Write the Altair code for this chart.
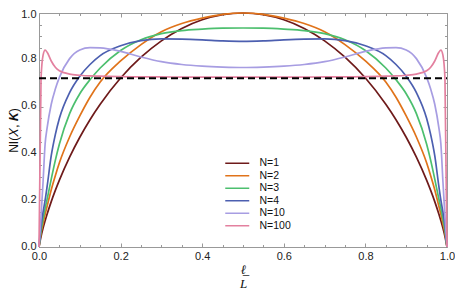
import altair as alt
import pandas as pd

# x positions (ell / L)
ell = [0.0, 0.005, 0.01, 0.015, 0.02, 0.03, 0.04, 0.05, 0.075, 0.1, 0.125, 0.15, 0.2, 0.25,
       0.3, 0.35, 0.4, 0.45, 0.5, 0.55, 0.6, 0.65, 0.7, 0.75, 0.8, 0.85, 0.875, 0.9, 0.925,
       0.95, 0.96, 0.97, 0.98, 0.985, 0.99, 0.995, 1.0]

n1 = [0.0, 0.045, 0.081, 0.112, 0.141, 0.194, 0.242, 0.286, 0.384, 0.469, 0.544, 0.610, 0.722, 0.811,
      0.881, 0.934, 0.971, 0.993, 1.0, 0.993, 0.971, 0.934, 0.881, 0.811, 0.722, 0.610, 0.544, 0.469, 0.384,
      0.286, 0.242, 0.194, 0.141, 0.112, 0.081, 0.045, 0.0]
n2 = [0.0, 0.06, 0.10, 0.14, 0.175, 0.245, 0.305, 0.36, 0.47, 0.56, 0.64, 0.705, 0.795, 0.865,
      0.92, 0.955, 0.978, 0.994, 1.0, 0.994, 0.978, 0.955, 0.92, 0.865, 0.795, 0.705, 0.64, 0.56, 0.47,
      0.36, 0.305, 0.245, 0.175, 0.14, 0.10, 0.06, 0.0]
n3 = [0.0, 0.07, 0.12, 0.165, 0.205, 0.29, 0.37, 0.44, 0.57, 0.655, 0.715, 0.765, 0.84, 0.886,
      0.912, 0.925, 0.931, 0.935, 0.936, 0.935, 0.931, 0.925, 0.912, 0.886, 0.84, 0.765, 0.715, 0.655, 0.57,
      0.44, 0.37, 0.29, 0.205, 0.165, 0.12, 0.07, 0.0]
n4 = [0.0, 0.09, 0.15, 0.20, 0.26, 0.39, 0.48, 0.55, 0.66, 0.73, 0.78, 0.818, 0.86, 0.882,
      0.889, 0.888, 0.885, 0.881, 0.879, 0.881, 0.885, 0.888, 0.889, 0.882, 0.86, 0.818, 0.78, 0.73, 0.66,
      0.55, 0.48, 0.39, 0.26, 0.20, 0.15, 0.09, 0.0]
n10 = [0.0, 0.13, 0.28, 0.44, 0.51, 0.61, 0.675, 0.725, 0.805, 0.842, 0.852, 0.851, 0.836, 0.812,
       0.792, 0.78, 0.773, 0.769, 0.767, 0.769, 0.773, 0.78, 0.792, 0.812, 0.836, 0.851, 0.852, 0.842, 0.805,
       0.725, 0.675, 0.61, 0.51, 0.44, 0.28, 0.13, 0.0]
n100 = [0.0, 0.72, 0.82, 0.841, 0.832, 0.795, 0.768, 0.753, 0.739, 0.734, 0.731, 0.730, 0.728, 0.727,
        0.727, 0.726, 0.726, 0.726, 0.726, 0.726, 0.726, 0.726, 0.727, 0.727, 0.728, 0.730, 0.731, 0.734, 0.739,
        0.753, 0.768, 0.795, 0.832, 0.841, 0.82, 0.72, 0.0]

series_names = ["N=1", "N=2", "N=3", "N=4", "N=10", "N=100"]
series_vals = [n1, n2, n3, n4, n10, n100]
colors = ["#6e1a1a", "#e0731a", "#4cbf6e", "#4c5fb0", "#a79de2", "#e3809f"]

dash_x = [0.0, 1.0]
dash_y = [0.7213, 0.7213]

major_ticks = [0.0, 0.2, 0.4, 0.6, 0.8, 1.0]
minor_ticks = [0.05, 0.1, 0.15, 0.25, 0.3, 0.35, 0.45, 0.5, 0.55, 0.65, 0.7, 0.75, 0.85, 0.9, 0.95]

rows = []
for name, vals in zip(series_names, series_vals):
    for xv, yv in zip(ell, vals):
        rows.append({"x": xv, "y": yv, "series": name})
df = pd.DataFrame(rows)
dash_df = pd.DataFrame({"x": dash_x, "y": dash_y})
frame_df = pd.DataFrame({"v": [0.0, 1.0]})

W, H = 408, 234
FONT = "Liberation Sans"
TICK_COLOR = "#999999"


def sc():
    return alt.Scale(domain=[0, 1], nice=False, zero=False)


lines = alt.Chart(df).mark_line(strokeWidth=1.7, interpolate="monotone").encode(
    x=alt.X("x:Q", scale=sc(), axis=alt.Axis(
        values=major_ticks, format=".1f", ticks=False, domain=False, grid=False,
        labelFlush=False, labelOverlap=False,
        labelPadding=3, labelFont=FONT, labelFontSize=11, labelColor="#222222",
        title=["ℓ̲", "L"], titleFont="Liberation Serif", titleFontStyle="italic",
        titleFontWeight="normal", titleFontSize=13, titleLineHeight=14,
        titlePadding=2, titleColor="#111111")),
    y=alt.Y("y:Q", scale=sc(), axis=alt.Axis(
        values=major_ticks, format=".1f", ticks=False, domain=False, grid=False,
        labelFlush=False, labelOverlap=False,
        labelOffset=alt.condition("datum.value >= 1", alt.value(1.5), alt.value(-1)),
        labelPadding=3, labelFont=FONT, labelFontSize=11, labelColor="#222222",
        title="NI(𝑋, 𝑲)", titleFont=FONT, titleFontWeight="normal", titleFontSize=12,
        titlePadding=0, titleColor="#111111")),
    color=alt.Color("series:N", sort=series_names,
                    scale=alt.Scale(domain=series_names, range=colors),
                    legend=alt.Legend(
                        title=None, orient="none", legendX=193, legendY=145,
                        symbolType="M-6,0L6,0", symbolSize=16, symbolStrokeWidth=1.5,
                        labelOffset=17, labelFont=FONT, labelFontSize=10.5,
                        labelColor="#111111", rowPadding=1.5, padding=0)),
)

dash = alt.Chart(dash_df).mark_line(color="black", strokeDash=[7, 4], strokeWidth=2).encode(
    x=alt.X("x:Q", scale=sc(), axis=None),
    y=alt.Y("y:Q", scale=sc(), axis=None),
)


def tick_layer(x_orient, y_orient, values, size):
    def ax(orient):
        return alt.Axis(orient=orient, values=values, tickSize=size, offset=-size,
                        labels=False, domain=False, grid=False, title=None,
                        tickColor=TICK_COLOR, tickWidth=1)
    return alt.Chart(frame_df).mark_point(opacity=0).encode(
        x=alt.X("v:Q", scale=sc(), axis=ax(x_orient)),
        y=alt.Y("v:Q", scale=sc(), axis=ax(y_orient)),
    )


chart = alt.layer(
    lines, dash,
    tick_layer("bottom", "left", major_ticks, 4),
    tick_layer("bottom", "left", minor_ticks, 2.5),
    tick_layer("top", "right", major_ticks, 4),
    tick_layer("top", "right", minor_ticks, 2.5),
).resolve_scale(x="independent", y="independent").properties(
    width=W, height=H,
    autosize=alt.AutoSizeParams(type="none"),
    padding={"left": 31, "top": 5, "right": 8, "bottom": 45},
).configure_view(stroke=TICK_COLOR, strokeWidth=1)

chart.save("out.html", embed_options={"renderer": "svg", "actions": False})
